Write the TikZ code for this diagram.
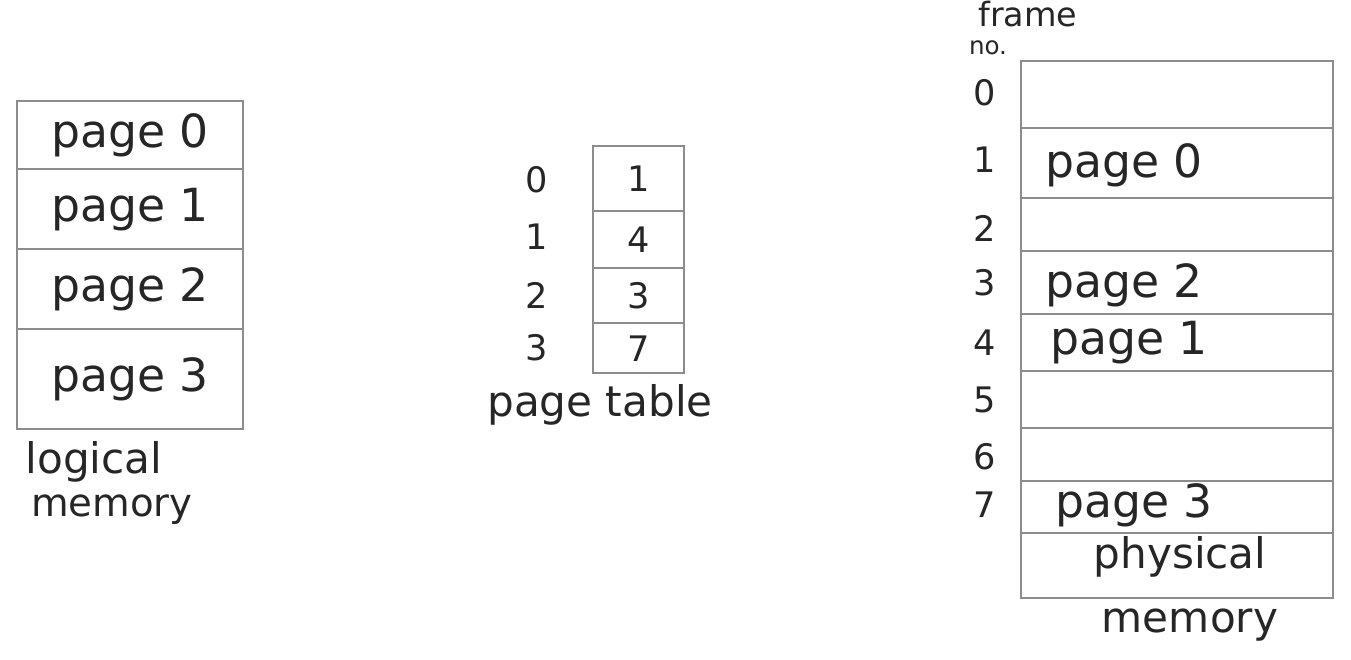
\documentclass[tikz,border=0pt]{standalone}
\usepackage{fontspec}
\setmainfont{DejaVu Sans}
\begin{document}
\begin{tikzpicture}[x=0.02cm,y=-0.02cm,
  line/.style={draw=black!45, line width=1.4pt},
  cell/.style={line, rectangle, inner sep=0pt, anchor=north west},
  lbl/.style={font=\fontsize{26}{30}\selectfont, text=black!85, inner sep=0pt},
  num/.style={font=\fontsize{20}{24}\selectfont, text=black!85, inner sep=0pt},
  captxt/.style={font=\fontsize{24}{28}\selectfont, text=black!85, inner sep=0pt}]
\useasboundingbox (0,0) rectangle (1351,659);
% logical memory
\node[cell, minimum width=4.52cm, minimum height=1.36cm] (l0) at (16,100) {};
\node[cell, minimum width=4.52cm, minimum height=1.60cm] (l1) at (16,168) {};
\node[cell, minimum width=4.52cm, minimum height=1.60cm] (l2) at (16,248) {};
\node[cell, minimum width=4.52cm, minimum height=2.00cm] (l3) at (16,328) {};
\node[lbl] (lt0) at (l0.center) {page 0};
\node[lbl] (lt1) at (l1.center) {page 1};
\node[lbl] (lt2) at (l2.center) {page 2};
\node[lbl] (lt3) at (l3.center) {page 3};
\node[captxt] (logical) at (94,462) {logical};
\node[captxt, font=\fontsize{22}{26}\selectfont] (lmem) at (112,510) {memory};
% page table
\node[cell, minimum width=1.82cm, minimum height=1.30cm] (p0) at (592,145) {};
\node[cell, minimum width=1.82cm, minimum height=1.14cm] (p1) at (592,210) {};
\node[cell, minimum width=1.82cm, minimum height=1.10cm] (p2) at (592,267) {};
\node[cell, minimum width=1.82cm, minimum height=1.00cm] (p3) at (592,322) {};
\node[num] (pv0) at (p0.center) {1};
\node[num] (pv1) at (p1.center) {4};
\node[num] (pv2) at (p2.center) {3};
\node[num] (pv3) at (p3.center) {7};
\node[num] (pi0) at (537,180) {0};
\node[num] (pi1) at (537,237) {1};
\node[num] (pi2) at (537,295) {2};
\node[num] (pi3) at (537,348) {3};
\node[captxt] (ptab) at (600,405) {page table};
% physical memory
\node[cell, minimum width=6.24cm, minimum height=1.34cm] (f0) at (1020,60) {};
\node[cell, minimum width=6.24cm, minimum height=1.40cm] (f1) at (1020,127) {};
\node[cell, minimum width=6.24cm, minimum height=1.06cm] (f2) at (1020,197) {};
\node[cell, minimum width=6.24cm, minimum height=1.26cm] (f3) at (1020,250) {};
\node[cell, minimum width=6.24cm, minimum height=1.14cm] (f4) at (1020,313) {};
\node[cell, minimum width=6.24cm, minimum height=1.14cm] (f5) at (1020,370) {};
\node[cell, minimum width=6.24cm, minimum height=1.06cm] (f6) at (1020,427) {};
\node[cell, minimum width=6.24cm, minimum height=1.04cm] (f7) at (1020,480) {};
\node[cell, minimum width=6.24cm, minimum height=1.30cm] (f8) at (1020,532) {};
\node[lbl, anchor=west] (ft1) at (1045,165) {page 0};
\node[lbl, anchor=west] (ft3) at (1045,285) {page 2};
\node[lbl, anchor=west] (ft4) at (1050,343) {page 1};
\node[lbl, anchor=west] (ft7) at (1055,505) {page 3};
\node[captxt] (phys) at (1180,557) {physical};
\node[captxt] (pmem) at (1190,625) {memory};
\node[num] (fn0) at (985,93) {0};
\node[num] (fn1) at (985,160) {1};
\node[num] (fn2) at (985,228) {2};
\node[num] (fn3) at (985,283) {3};
\node[num] (fn4) at (985,343) {4};
\node[num] (fn5) at (985,400) {5};
\node[num] (fn6) at (985,457) {6};
\node[num] (fn7) at (985,505) {7};
\node[captxt, font=\fontsize{19}{22}\selectfont] (frame) at (1028,14) {frame};
\node[num, font=\fontsize{14}{16}\selectfont] (fno) at (988,48) {no.};
\end{tikzpicture}
\end{document}
